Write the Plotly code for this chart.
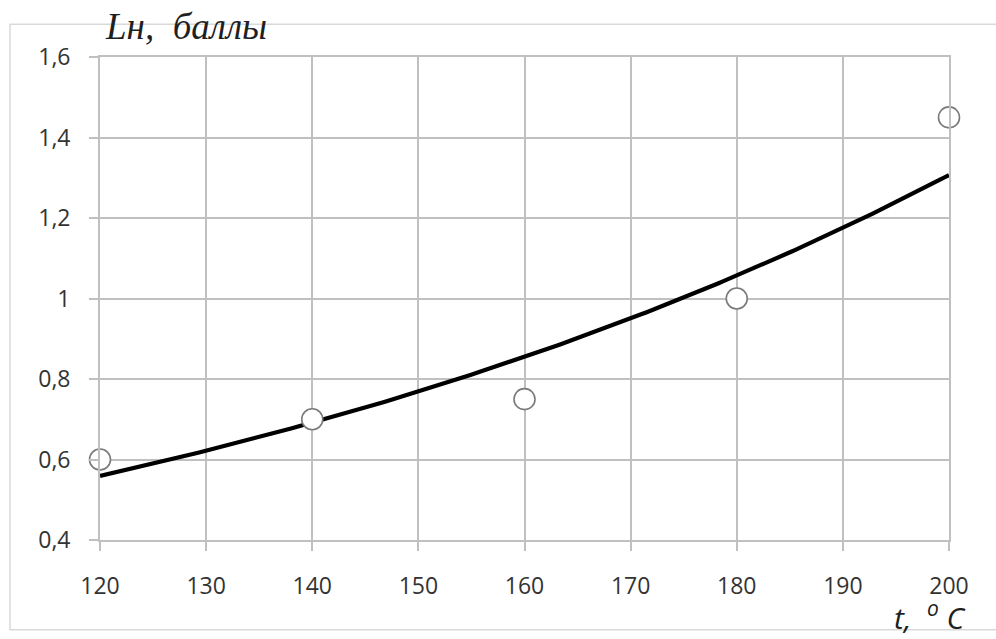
import numpy as np
import plotly.graph_objects as go

# Measured points
temperature = [120, 140, 160, 180, 200]
score = [0.60, 0.70, 0.75, 1.00, 1.45]

# Axis ticks
x_ticks = [120, 130, 140, 150, 160, 170, 180, 190, 200]
y_ticks = [0.4, 0.6, 0.8, 1.0, 1.2, 1.4, 1.6]
y_tick_text = ["0,4", "0,6", "0,8", "1", "1,2", "1,4", "1,6"]

# Exponential trend fitted to the measured points (least squares on log values)
slope, intercept = np.polyfit(temperature, np.log(score), 1)
t_fit = np.linspace(min(temperature), max(temperature), 200)
score_fit = np.exp(intercept + slope * t_fit)

grid = "#c0c0c0"
tick_font = dict(family="Open Sans", size=23, color="#333333")

fig = go.Figure()
fig.add_trace(go.Scatter(
    x=t_fit, y=score_fit, mode="lines",
    line=dict(color="black", width=4.2),
    hoverinfo="skip", showlegend=False,
))
fig.add_trace(go.Scatter(
    x=temperature, y=score, mode="markers",
    marker=dict(symbol="circle", size=21, color="white",
                line=dict(color="#7a7a7a", width=1.6)),
    showlegend=False, cliponaxis=False,
))

fig.update_xaxes(
    range=[120, 200], tickvals=x_ticks, ticktext=[str(v) for v in x_ticks],
    showgrid=True, gridcolor=grid, gridwidth=1.8,
    showline=True, linecolor=grid, linewidth=1.8, mirror=True,
    ticks="outside", ticklen=9, tickcolor=grid, tickwidth=1.8,
    ticklabelstandoff=15, tickfont=tick_font, zeroline=False,
)
fig.update_yaxes(
    range=[0.4, 1.6], tickvals=y_ticks, ticktext=y_tick_text,
    showgrid=True, gridcolor=grid, gridwidth=1.8,
    showline=True, linecolor=grid, linewidth=1.8, mirror=True,
    ticks="outside", ticklen=9, tickcolor=grid, tickwidth=1.8,
    ticklabelstandoff=14, tickfont=tick_font, zeroline=False,
)

# Outer frame of the chart area
fig.add_shape(
    type="rect", xref="paper", yref="paper",
    x0=-0.106, x1=1.10, y0=-0.186, y1=1.068,
    line=dict(color="#d9d9d9", width=1.5), fillcolor="rgba(0,0,0,0)",
    layer="below",
)

fig.add_annotation(
    text="<i>Lн,  баллы</i>", xref="paper", yref="paper",
    x=0.004, y=1.064, xanchor="left", yanchor="middle", showarrow=False,
    font=dict(family="Liberation Serif", size=37, color="#1f1f1f"),
)
fig.add_annotation(
    text="<i>t,  <sup>o</sup> C</i>", xref="paper", yref="paper",
    x=1.021, y=-0.158, xanchor="right", yanchor="middle", showarrow=False,
    font=dict(family="Open Sans", size=30, color="#1f1f1f"),
    borderpad=0,
)

fig.update_layout(
    width=996, height=639,
    margin=dict(l=100, r=47, t=57, b=99),
    paper_bgcolor="white", plot_bgcolor="white",
    showlegend=False,
)

fig.write_html("out.html")
